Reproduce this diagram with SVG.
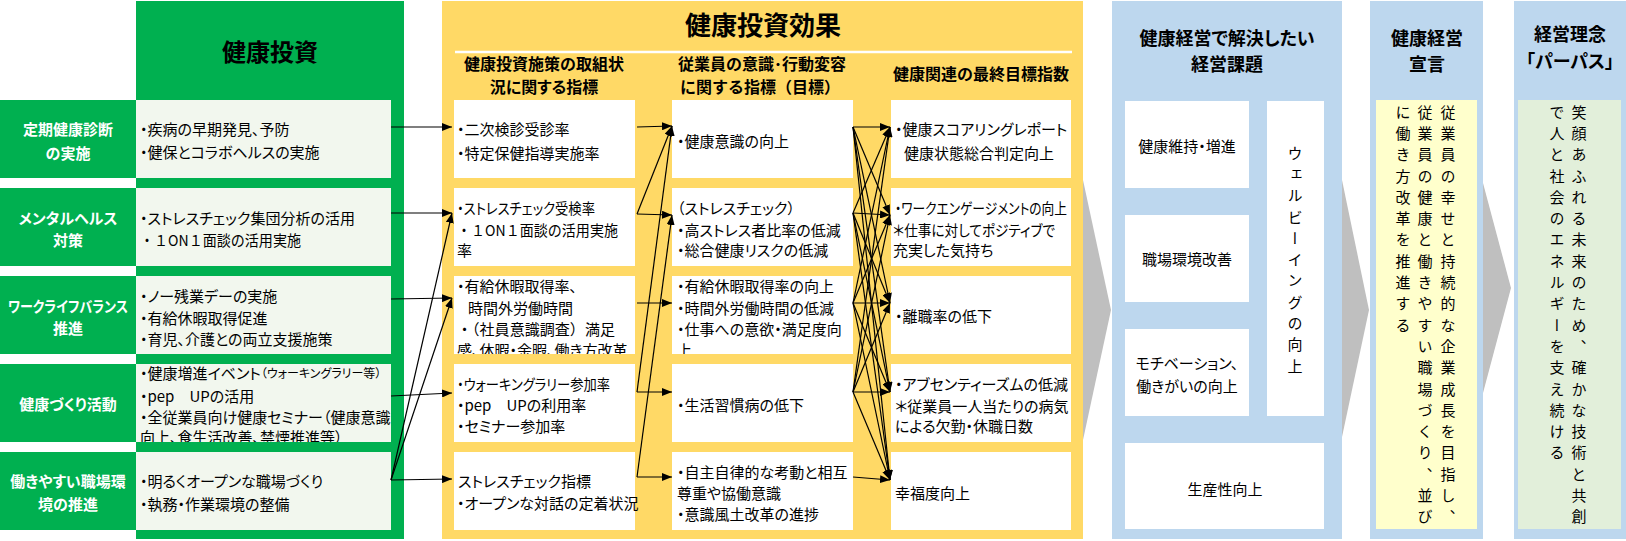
<svg xmlns="http://www.w3.org/2000/svg" width="1626" height="541" viewBox="0 0 1626 541">
<style>
.t{font-family:"Noto Sans CJK JP","Noto Sans",sans-serif;font-size:15px;font-feature-settings:"palt" 1;dominant-baseline:central;fill:#000}
.np{font-feature-settings:normal}
.lb{fill:#fff;font-weight:bold;text-anchor:middle}
.c{text-anchor:middle}
.b{font-weight:bold}
.h1{font-size:24px}
.h2{font-size:26px}
.sh{font-size:16px}
.bt{font-size:18px}
.v{font-family:"Noto Sans CJK JP",sans-serif;font-size:15px;writing-mode:vertical-rl;letter-spacing:6.3px;fill:#000}
.gr{fill:#00B050}
.lg{fill:#F2F7EE}
.wb{fill:#fff}
.bl{fill:#BDD7EE}
.ar{fill:#BFBFBF}
.cn{stroke:#000;stroke-width:1.2;fill:none;marker-end:url(#ah)}
</style>
<defs>
<marker id="ah" viewBox="0 0 10 8" refX="10" refY="4" markerWidth="10" markerHeight="8" markerUnits="userSpaceOnUse" orient="auto"><path d="M0,0 L10,4 L0,8 z" fill="#000"/></marker>
<clipPath id="clA3"><rect x="454" y="276" width="181" height="78"/></clipPath>
<clipPath id="clB3"><rect x="672" y="276" width="181" height="78"/></clipPath>
<clipPath id="clL4"><rect x="136" y="364" width="255" height="78"/></clipPath>
</defs>

<!-- gray chevrons -->
<g id="chevrons">
<polygon class="ar" points="1083,180 1111,310 1083,440"/>
<polygon class="ar" points="1342,180 1369,310 1342,437"/>
<polygon class="ar" points="1483,183 1511,288 1483,393"/>
</g>

<!-- Green investment column -->
<g id="investment">
<rect class="gr" x="136" y="1" width="268" height="538"/>
<text class="t b c h1" x="270" y="50">健康投資</text>
</g>

<g id="inv1">
<rect class="gr" x="0" y="100" width="136" height="78"/>
<text class="t lb" x="68" y="128">定期健康診断</text>
<text class="t lb" x="68" y="152">の実施</text>
<rect class="lg" x="136" y="100" width="255" height="78"/>
<text class="t" x="140" y="128">・疾病の早期発見、予防</text>
<text class="t" x="140" y="151">・健保とコラボヘルスの実施</text>
</g>
<g id="inv2">
<rect class="gr" x="0" y="188" width="136" height="78"/>
<text class="t lb" x="68" y="217">メンタルヘルス</text>
<text class="t lb" x="68" y="239">対策</text>
<rect class="lg" x="136" y="188" width="255" height="78"/>
<text class="t" x="140" y="217">・ストレスチェック集団分析の活用</text>
<text class="t np" x="140" y="239" textLength="161" lengthAdjust="spacingAndGlyphs">・１ON１面談の活用実施</text>
</g>
<g id="inv3">
<rect class="gr" x="0" y="276" width="136" height="78"/>
<text class="t lb" x="68" y="305" textLength="120" lengthAdjust="spacingAndGlyphs">ワークライフバランス</text>
<text class="t lb" x="68" y="327">推進</text>
<rect class="lg" x="136" y="276" width="255" height="78"/>
<text class="t" x="140" y="295">・ノー残業デーの実施</text>
<text class="t" x="140" y="317">・有給休暇取得促進</text>
<text class="t" x="140" y="338">・育児、介護との両立支援施策</text>
</g>
<g id="inv4">
<rect class="gr" x="0" y="364" width="136" height="78"/>
<text class="t lb" x="68" y="403">健康づくり活動</text>
<rect class="lg" x="136" y="364" width="255" height="78"/>
<g clip-path="url(#clL4)">
<text class="t" x="140" y="372">・健康増進イベント<tspan font-size="12">（ウォーキングラリー等）</tspan></text>
<text class="t" x="140" y="395">・pep　UPの活用</text>
<text class="t" x="140" y="416">・全従業員向け健康セミナー（健康意識</text>
<text class="t" x="140" y="436">向上、食生活改善、禁煙推進等）</text>
</g>
</g>
<g id="inv5">
<rect class="gr" x="0" y="452" width="136" height="78"/>
<text class="t lb" x="68" y="480">働きやすい職場環</text>
<text class="t lb" x="68" y="503">境の推進</text>
<rect class="lg" x="136" y="452" width="255" height="78"/>
<text class="t" x="140" y="480">・明るくオープンな職場づくり</text>
<text class="t" x="140" y="503">・執務・作業環境の整備</text>
</g>

<!-- Yellow effect column -->
<g id="effect">
<rect x="442" y="1" width="641" height="538" fill="#FFD966"/>
<text class="t b c h2" x="763" y="23">健康投資効果</text>
<line x1="455" y1="52" x2="1072" y2="52" stroke="#fff" stroke-width="2.5"/>
<text class="t b c sh" x="544" y="63">健康投資施策の取組状</text>
<text class="t b c sh" x="544" y="86">況に関する指標</text>
<text class="t b c sh" x="762" y="63">従業員の意識･行動変容</text>
<text class="t b c sh np" x="760" y="86">に関する指標（目標）</text>
<text class="t b c sh" x="981" y="73">健康関連の最終目標指数</text>
</g>

<g id="a1">
<rect class="wb" x="454" y="100" width="181" height="78"/>
<text class="t" x="457" y="128">・二次検診受診率</text>
<text class="t" x="457" y="152">・特定保健指導実施率</text>
</g>
<g id="a2">
<rect class="wb" x="454" y="188" width="181" height="78"/>
<text class="t" x="457" y="207" textLength="138" lengthAdjust="spacingAndGlyphs">・ストレスチェック受検率</text>
<text class="t np" x="457" y="229" textLength="161" lengthAdjust="spacingAndGlyphs">・１ON１面談の活用実施</text>
<text class="t" x="457" y="249">率</text>
</g>
<g id="a3">
<rect class="wb" x="454" y="276" width="181" height="78"/>
<g clip-path="url(#clA3)">
<text class="t" x="457" y="285">・有給休暇取得率、</text>
<text class="t" x="468" y="307">時間外労働時間</text>
<text class="t np" x="457" y="328" textLength="158" lengthAdjust="spacingAndGlyphs">・（社員意識調査）満足</text>
<text class="t" x="457" y="349">感、休暇・余暇、働き方改革</text>
</g>
</g>
<g id="a4">
<rect class="wb" x="454" y="364" width="181" height="78"/>
<text class="t" x="457" y="383" textLength="153" lengthAdjust="spacingAndGlyphs">・ウォーキングラリー参加率</text>
<text class="t" x="457" y="404">・pep　UPの利用率</text>
<text class="t" x="457" y="425">・セミナー参加率</text>
</g>
<g id="a5">
<rect class="wb" x="454" y="452" width="181" height="78"/>
<text class="t" x="458" y="480">ストレスチェック指標</text>
<text class="t" x="457" y="502">・オープンな対話の定着状況</text>
</g>

<g id="b1">
<rect class="wb" x="672" y="100" width="181" height="78"/>
<text class="t" x="677" y="140">・健康意識の向上</text>
</g>
<g id="b2">
<rect class="wb" x="672" y="188" width="181" height="78"/>
<text class="t" x="677" y="207">（ストレスチェック）</text>
<text class="t" x="677" y="229">・高ストレス者比率の低減</text>
<text class="t" x="677" y="249">・総合健康リスクの低減</text>
</g>
<g id="b3">
<rect class="wb" x="672" y="276" width="181" height="78"/>
<g clip-path="url(#clB3)">
<text class="t" x="677" y="285">・有給休暇取得率の向上</text>
<text class="t" x="677" y="307">・時間外労働時間の低減</text>
<text class="t" x="677" y="328">・仕事への意欲・満足度向</text>
<text class="t" x="677" y="349">上</text>
</g>
</g>
<g id="b4">
<rect class="wb" x="672" y="364" width="181" height="78"/>
<text class="t" x="677" y="404">・生活習慣病の低下</text>
</g>
<g id="b5">
<rect class="wb" x="672" y="452" width="181" height="78"/>
<text class="t" x="677" y="471">・自主自律的な考動と相互</text>
<text class="t" x="677" y="492">尊重や協働意識</text>
<text class="t" x="677" y="513">・意識風土改革の進捗</text>
</g>

<g id="c1">
<rect class="wb" x="891" y="100" width="180" height="78"/>
<text class="t" x="895" y="128">・健康スコアリングレポート</text>
<text class="t" x="904" y="152">健康状態総合判定向上</text>
</g>
<g id="c2">
<rect class="wb" x="891" y="188" width="180" height="78"/>
<text class="t" x="895" y="207" textLength="172" lengthAdjust="spacingAndGlyphs">・ワークエンゲージメントの向上</text>
<text class="t" x="893" y="229" textLength="162" lengthAdjust="spacingAndGlyphs">＊仕事に対してポジティブで</text>
<text class="t" x="893" y="249">充実した気持ち</text>
</g>
<g id="c3">
<rect class="wb" x="891" y="276" width="180" height="78"/>
<text class="t" x="895" y="315">・離職率の低下</text>
</g>
<g id="c4">
<rect class="wb" x="891" y="364" width="180" height="78"/>
<text class="t" x="895" y="383">・アブセンティーズムの低減</text>
<text class="t" x="895" y="405">＊従業員一人当たりの病気</text>
<text class="t" x="895" y="425">による欠勤・休職日数</text>
</g>
<g id="c5">
<rect class="wb" x="891" y="452" width="180" height="78"/>
<text class="t" x="895" y="492">幸福度向上</text>
</g>

<!-- Blue management issues -->
<g id="issues">
<rect class="bl" x="1112" y="1" width="230" height="538"/>
<text class="t b c bt" x="1227" y="37">健康経営で解決したい</text>
<text class="t b c bt" x="1227" y="63">経営課題</text>
</g>
<g id="issue1">
<rect class="wb" x="1125" y="101" width="124" height="87"/>
<text class="t c" x="1187" y="145">健康維持・増進</text>
</g>
<g id="issue2">
<rect class="wb" x="1125" y="215" width="124" height="87"/>
<text class="t c" x="1187" y="258">職場環境改善</text>
</g>
<g id="issue3">
<rect class="wb" x="1125" y="329" width="124" height="87"/>
<text class="t c" x="1187" y="362">モチベーション、</text>
<text class="t c" x="1187" y="385">働きがいの向上</text>
</g>
<g id="issue4">
<rect class="wb" x="1267" y="101" width="57" height="315"/>
<text class="v" x="1295" y="145.5">ウェルビーイングの向上</text>
</g>
<g id="issue5">
<rect class="wb" x="1125" y="443" width="199" height="86"/>
<text class="t c" x="1225" y="488">生産性向上</text>
</g>

<!-- Declaration -->
<g id="declaration">
<rect class="bl" x="1370" y="1" width="113" height="538"/>
<text class="t b c bt" x="1427" y="37">健康経営</text>
<text class="t b c bt" x="1427" y="63">宣言</text>
<rect x="1376" y="100" width="101" height="429" fill="#FFFFCC"/>
<text class="v" x="1448" y="104.5">従業員の幸せと持続的な企業成長を目指し、</text>
<text class="v" x="1425" y="104.5">従業員の健康と働きやすい職場づくり、並び</text>
<text class="v" x="1403" y="104.5">に働き方改革を推進する</text>
</g>

<!-- Purpose -->
<g id="purpose">
<rect class="bl" x="1514" y="1" width="112" height="538"/>
<text class="t b c bt" x="1570" y="33">経営理念</text>
<text class="t b c bt" x="1570" y="60">「パーパス」</text>
<rect x="1518" y="100" width="103" height="429" fill="#E2EFDA"/>
<text class="v" x="1579" y="104.5">笑顔あふれる未来のため、確かな技術と共創</text>
<text class="v" x="1557" y="104.5">で人と社会のエネルギーを支え続ける</text>
</g>

<!-- Connectors -->
<g id="connectors">
<line class="cn" x1="391" y1="127" x2="452" y2="127"/>
<line class="cn" x1="391" y1="213" x2="452" y2="213"/>
<line class="cn" x1="391" y1="299" x2="452" y2="298"/>
<line class="cn" x1="391" y1="396" x2="452" y2="393"/>
<line class="cn" x1="391" y1="480" x2="452" y2="479"/>
<line class="cn" x1="391" y1="480" x2="452" y2="213"/>
<line class="cn" x1="391" y1="480" x2="452" y2="298"/>

<line class="cn" x1="637" y1="127" x2="672" y2="126"/>
<line class="cn" x1="637" y1="214" x2="672" y2="126"/>
<line class="cn" x1="637" y1="214" x2="672" y2="215"/>
<line class="cn" x1="637" y1="303" x2="672" y2="303"/>
<line class="cn" x1="637" y1="392" x2="672" y2="392"/>
<line class="cn" x1="637" y1="392" x2="672" y2="126"/>
<line class="cn" x1="637" y1="477" x2="672" y2="477"/>
<line class="cn" x1="637" y1="477" x2="672" y2="215"/>

<line class="cn" x1="853" y1="127" x2="890" y2="127"/>
<line class="cn" x1="853" y1="127" x2="890" y2="215"/>
<line class="cn" x1="853" y1="127" x2="890" y2="303"/>
<line class="cn" x1="853" y1="127" x2="890" y2="392"/>
<line class="cn" x1="853" y1="127" x2="890" y2="480"/>
<line class="cn" x1="853" y1="213" x2="890" y2="127"/>
<line class="cn" x1="853" y1="213" x2="890" y2="215"/>
<line class="cn" x1="853" y1="213" x2="890" y2="303"/>
<line class="cn" x1="853" y1="213" x2="890" y2="392"/>
<line class="cn" x1="853" y1="213" x2="890" y2="480"/>
<line class="cn" x1="853" y1="303" x2="890" y2="127"/>
<line class="cn" x1="853" y1="303" x2="890" y2="215"/>
<line class="cn" x1="853" y1="303" x2="890" y2="303"/>
<line class="cn" x1="853" y1="303" x2="890" y2="392"/>
<line class="cn" x1="853" y1="303" x2="890" y2="480"/>
<line class="cn" x1="853" y1="392" x2="890" y2="127"/>
<line class="cn" x1="853" y1="392" x2="890" y2="215"/>
<line class="cn" x1="853" y1="392" x2="890" y2="303"/>
<line class="cn" x1="853" y1="392" x2="890" y2="392"/>
<line class="cn" x1="853" y1="392" x2="890" y2="480"/>
<line class="cn" x1="853" y1="477" x2="890" y2="480"/>
</g>
</svg>
